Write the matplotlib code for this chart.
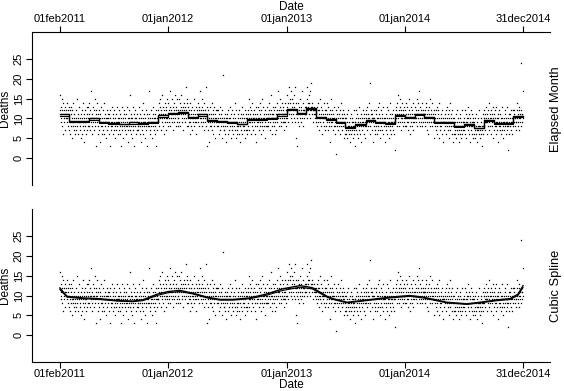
import numpy as np
import pandas as pd
import matplotlib
matplotlib.use("Agg")
import matplotlib.pyplot as plt
import matplotlib.dates as mdates

plt.rcParams["font.family"] = ["Liberation Sans", "DejaVu Sans"]

# Daily deaths, one line per month
deaths_2011 = [
    12, 16, 11, 9, 13, 10, 15, 8, 12, 11, 6, 14, 10, 12, 9, 11, 13, 7, 10, 12, 11, 9, 14, 10, 8, 12, 11, 13,  # feb
    10, 7, 12, 9, 6, 11, 8, 13, 9, 10, 5, 12, 8, 9, 14, 7, 10, 11, 6, 9, 8, 12, 10, 7, 9, 15, 8, 11, 10, 6, 9,  # mar
    9, 13, 7, 10, 8, 5, 11, 9, 12, 6, 10, 8, 14, 9, 7, 11, 4, 10, 9, 12, 8, 10, 6, 9, 13, 7, 11, 8, 10, 13,  # apr
    11, 8, 14, 10, 7, 12, 9, 17, 10, 8, 6, 11, 13, 9, 10, 12, 7, 10, 15, 9, 8, 11, 3, 12, 10, 9, 14, 10, 8, 11, 6,  # may
    9, 12, 7, 10, 4, 11, 8, 13, 9, 6, 10, 8, 12, 9, 7, 14, 10, 6, 9, 11, 8, 10, 5, 9, 12, 7, 10, 9, 11, 10,  # jun
    8, 11, 6, 9, 10, 3, 12, 8, 9, 7, 13, 9, 8, 10, 6, 11, 9, 7, 12, 8, 5, 10, 9, 11, 7, 8, 13, 9, 6, 10, 9,  # jul
    9, 7, 10, 12, 6, 8, 11, 3, 9, 10, 8, 13, 7, 9, 10, 5, 11, 8, 12, 9, 7, 10, 8, 6, 11, 9, 13, 8, 4, 10, 7,  # aug
    10, 8, 12, 7, 9, 16, 6, 10, 8, 11, 9, 5, 10, 13, 8, 7, 11, 9, 3, 10, 8, 12, 9, 6, 10, 7, 11, 9, 8, 8,  # sep
    7, 10, 9, 13, 6, 8, 11, 9, 4, 10, 8, 12, 7, 9, 10, 6, 14, 8, 9, 11, 5, 9, 10, 8, 12, 7, 9, 3, 11, 10, 8,  # oct
    9, 11, 8, 17, 7, 10, 6, 9, 12, 8, 10, 5, 9, 11, 8, 13, 7, 10, 9, 6, 11, 8, 10, 9, 3, 12, 7, 9, 10, 9,  # nov
    12, 9, 14, 11, 8, 13, 10, 15, 7, 11, 12, 9, 16, 10, 8, 11, 13, 6, 12, 10, 14, 9, 11, 10, 13, 7, 12, 10, 15, 9, 8,  # dec
]
deaths_2012 = [
    11, 14, 9, 12, 10, 17, 8, 13, 11, 10, 12, 9, 15, 11, 7, 13, 10, 12, 14, 9, 11, 16, 10, 8, 12, 13, 9, 11, 15, 10, 8,  # jan
    12, 10, 15, 11, 9, 14, 12, 8, 13, 11, 16, 10, 12, 9, 13, 11, 7, 14, 12, 10, 11, 13, 9, 18, 12, 10, 14, 8, 15,  # feb
    10, 13, 8, 11, 9, 12, 6, 10, 14, 9, 11, 8, 12, 10, 7, 13, 9, 11, 10, 15, 8, 12, 9, 11, 10, 6, 13, 9, 12, 10, 11,  # mar
    11, 9, 14, 12, 8, 13, 10, 17, 11, 9, 12, 10, 15, 8, 11, 13, 9, 12, 10, 7, 14, 11, 9, 12, 10, 18, 8, 11, 13, 3,  # apr
    10, 7, 12, 9, 11, 4, 10, 13, 8, 9, 11, 8, 10, 14, 7, 9, 12, 6, 10, 11, 9, 13, 8, 10, 5, 11, 9, 12, 10, 8, 12,  # may
    9, 12, 8, 10, 6, 11, 9, 13, 7, 10, 8, 11, 9, 5, 12, 10, 21, 8, 9, 7, 10, 7, 9, 11, 6, 8, 10, 4, 9, 10,  # jun
    8, 11, 9, 6, 12, 10, 7, 9, 13, 8, 10, 5, 9, 11, 8, 12, 7, 10, 9, 6, 11, 9, 8, 14, 7, 10, 9, 5, 12, 8, 6,  # jul
    9, 7, 11, 8, 10, 6, 12, 9, 4, 10, 8, 11, 7, 9, 13, 6, 10, 8, 9, 11, 7, 10, 8, 5, 12, 9, 11, 7, 10, 6, 7,  # aug
    10, 12, 8, 11, 9, 15, 7, 10, 13, 9, 11, 6, 10, 12, 8, 9, 14, 10, 7, 11, 9, 12, 10, 8, 11, 6, 10, 13, 4, 9,  # sep
    11, 8, 10, 13, 9, 7, 12, 10, 14, 8, 9, 11, 6, 10, 12, 8, 15, 9, 10, 7, 13, 10, 8, 11, 9, 12, 5, 10, 11, 8, 8,  # oct
    10, 13, 9, 11, 8, 14, 10, 12, 7, 11, 9, 12, 10, 16, 8, 11, 6, 10, 13, 9, 11, 8, 12, 10, 9, 6, 13, 10, 11, 7,  # nov
    12, 9, 14, 11, 10, 17, 8, 12, 11, 13, 10, 15, 9, 12, 8, 11, 14, 10, 12, 9, 13, 11, 7, 9, 10, 14, 9, 11, 12, 10, 8,  # dec
]
deaths_2013 = [
    13, 10, 16, 12, 14, 9, 18, 12, 11, 15, 12, 14, 10, 17, 11, 13, 9, 15, 12, 14, 11, 16, 13, 10, 12, 18, 9, 14, 12, 11, 5,  # jan
    3, 12, 10, 14, 11, 9, 13, 12, 8, 15, 11, 10, 13, 9, 12, 17, 10, 11, 8, 12, 14, 10, 12, 12, 11, 13, 11, 13,  # feb
    13, 11, 15, 12, 18, 10, 14, 12, 13, 16, 11, 14, 12, 17, 10, 13, 19, 12, 14, 11, 13, 12, 9, 12, 12, 11, 13, 12, 10, 11, 12,  # mar
    11, 9, 13, 10, 8, 12, 14, 9, 11, 10, 7, 12, 10, 15, 9, 11, 8, 13, 10, 6, 12, 9, 11, 10, 14, 8, 10, 12, 7, 11,  # apr
    10, 12, 8, 11, 9, 14, 7, 10, 13, 9, 11, 8, 10, 4, 12, 9, 11, 15, 8, 10, 9, 12, 10, 7, 11, 13, 8, 10, 9, 6, 8,  # may
    1, 10, 12, 8, 11, 9, 13, 7, 10, 9, 11, 8, 10, 12, 6, 9, 14, 8, 10, 11, 7, 9, 12, 10, 8, 5, 11, 9, 10, 6,  # jun
    8, 6, 10, 7, 9, 11, 5, 8, 12, 7, 9, 6, 8, 10, 4, 7, 11, 8, 6, 9, 7, 10, 8, 5, 9, 12, 6, 8, 7, 3, 9,  # jul
    9, 7, 10, 12, 6, 8, 11, 9, 5, 10, 8, 13, 7, 9, 10, 6, 11, 8, 4, 9, 10, 7, 12, 8, 9, 11, 6, 10, 8, 5, 9,  # aug
    10, 12, 8, 11, 9, 7, 13, 10, 8, 11, 9, 14, 10, 6, 19, 8, 11, 9, 12, 10, 7, 11, 9, 10, 4, 12, 8, 10, 6, 7,  # sep
    9, 11, 8, 12, 10, 6, 9, 13, 7, 10, 8, 11, 9, 14, 7, 10, 5, 9, 12, 8, 10, 7, 11, 9, 13, 6, 9, 10, 8, 4, 10,  # oct
    9, 7, 11, 8, 10, 13, 6, 9, 12, 8, 10, 5, 9, 11, 7, 8, 14, 9, 10, 6, 11, 8, 9, 7, 12, 10, 6, 9, 9, 2,  # nov
    11, 9, 13, 10, 12, 8, 14, 11, 9, 16, 10, 12, 8, 11, 13, 9, 15, 10, 7, 12, 11, 9, 14, 10, 12, 8, 11, 13, 9, 10, 8,  # dec
]
deaths_2014 = [
    10, 12, 8, 11, 14, 9, 10, 13, 7, 11, 9, 12, 10, 15, 8, 11, 6, 10, 13, 9, 11, 8, 12, 10, 9, 14, 7, 10, 11, 9, 10,  # jan
    11, 13, 9, 12, 10, 15, 8, 11, 14, 10, 12, 9, 11, 17, 10, 8, 13, 11, 9, 12, 10, 14, 8, 11, 12, 9, 11, 11,  # feb
    10, 12, 9, 11, 8, 13, 10, 14, 7, 11, 9, 12, 10, 6, 13, 11, 9, 15, 10, 8, 11, 9, 12, 10, 14, 8, 10, 11, 9, 12, 5,  # mar
    9, 11, 8, 10, 12, 7, 9, 13, 6, 10, 8, 12, 9, 11, 5, 10, 14, 8, 9, 7, 10, 8, 11, 9, 6, 12, 9, 4, 10, 9,  # apr
    9, 7, 11, 10, 8, 12, 6, 9, 13, 8, 10, 9, 7, 11, 5, 12, 8, 10, 9, 14, 7, 10, 8, 11, 9, 6, 12, 4, 10, 8, 6,  # may
    8, 10, 6, 9, 7, 11, 5, 8, 12, 7, 9, 6, 8, 10, 4, 9, 7, 11, 8, 6, 10, 7, 9, 5, 8, 12, 6, 9, 7, 9,  # jun
    9, 7, 10, 8, 12, 6, 9, 11, 5, 10, 8, 9, 13, 7, 10, 6, 8, 11, 9, 4, 10, 8, 7, 12, 9, 6, 11, 8, 10, 5, 9,  # jul
    8, 6, 9, 7, 10, 5, 8, 11, 6, 7, 9, 4, 8, 7, 10, 6, 12, 8, 7, 5, 8, 10, 6, 9, 3, 8, 7, 11, 6, 8, 10,  # aug
    10, 12, 8, 9, 11, 7, 13, 10, 9, 6, 11, 9, 12, 8, 10, 14, 7, 9, 11, 10, 8, 10, 6, 12, 9, 11, 8, 10, 13, 5,  # sep
    9, 11, 7, 10, 8, 12, 6, 9, 13, 8, 10, 7, 9, 11, 4, 10, 8, 12, 9, 7, 11, 8, 10, 6, 9, 13, 7, 10, 8, 5, 9,  # oct
    9, 7, 10, 12, 8, 11, 6, 9, 10, 8, 13, 9, 7, 2, 10, 8, 11, 9, 6, 10, 8, 11, 9, 7, 12, 10, 6, 9, 8, 12,  # nov
    10, 12, 9, 11, 8, 10, 10, 7, 9, 9, 12, 10, 14, 8, 11, 9, 13, 10, 7, 12, 11, 9, 10, 24, 8, 12, 9, 11, 11, 10, 17,  # dec
]

# Elapsed-month fit (two traces), one value per month feb2011..dec2014
elapsed_a = [11.0, 9.4, 9.3, 10.0, 9.2, 8.8, 8.7, 9.0, 8.8, 9.1, 10.8,
             11.3, 11.7, 10.3, 11.0, 9.6, 9.3, 9.0, 8.7, 9.8, 9.8, 10.2, 11.0,
             12.5, 11.3, 12.7, 10.4, 9.8, 9.2, 7.9, 8.6, 9.7, 9.2, 8.9, 10.8,
             10.3, 11.1, 10.3, 9.2, 9.0, 8.1, 8.6, 7.7, 9.6, 8.9, 8.9, 10.7]
elapsed_b = [10.6, 9.1, 9.0, 9.6, 8.9, 8.6, 8.5, 8.7, 8.6, 8.8, 10.4,
             11.0, 11.4, 10.0, 10.7, 9.3, 9.0, 8.8, 8.5, 9.5, 9.5, 9.9, 10.7,
             12.1, 11.0, 12.3, 10.1, 9.5, 8.9, 7.7, 8.4, 9.4, 8.9, 8.7, 10.5,
             10.0, 10.8, 10.0, 8.9, 8.8, 7.9, 8.4, 7.5, 9.3, 8.7, 8.7, 10.3]

# Cubic spline fit (two traces)
spline_dates = ["2011-02-01", "2011-02-23", "2011-04-13", "2011-06-04", "2011-07-27",
                "2011-09-14", "2011-10-15", "2011-11-27", "2012-01-01", "2012-02-06",
                "2012-03-17", "2012-04-30", "2012-06-09", "2012-07-19", "2012-09-09",
                "2012-11-01", "2012-12-20", "2013-02-11", "2013-03-20", "2013-04-15",
                "2013-05-05", "2013-05-24", "2013-07-06", "2013-08-24", "2013-11-16",
                "2014-01-16", "2014-02-25", "2014-05-10", "2014-07-11", "2014-08-20",
                "2014-10-12", "2014-11-21", "2014-12-16", "2014-12-31"]
spline_a = [11.9, 9.8, 9.4, 9.2, 8.75, 8.6, 8.9, 10.3, 11.0, 11.3,
            10.6, 9.6, 9.0, 9.0, 9.4, 10.4, 11.7, 12.5, 12.0, 10.8,
            9.8, 9.2, 8.3, 8.75, 9.6, 10.0, 9.6, 8.3, 7.9, 8.3,
            8.9, 9.2, 10.4, 12.5]
spline_b = [11.5, 9.6, 9.2, 9.0, 8.6, 8.45, 8.7, 10.0, 10.7, 11.0,
            10.4, 9.4, 8.85, 8.85, 9.2, 10.1, 11.3, 12.1, 11.7, 10.5,
            9.6, 9.0, 8.15, 8.6, 9.4, 9.8, 9.4, 8.15, 7.75, 8.15,
            8.7, 9.0, 10.1, 12.0]

tick_dates = ["2011-02-01", "2012-01-01", "2013-01-01", "2014-01-01", "2014-12-31"]
tick_labels = ["01feb2011", "01jan2012", "01jan2013", "01jan2014", "31dec2014"]

deaths = deaths_2011 + deaths_2012 + deaths_2013 + deaths_2014
days = pd.date_range("2011-02-01", periods=len(deaths), freq="D")
months = list(pd.date_range("2011-02-01", periods=len(elapsed_a), freq="MS")) + [pd.Timestamp("2014-12-31")]
sp_dates = pd.to_datetime(spline_dates)

fig = plt.figure(figsize=(5.64, 3.91), dpi=100)
ax1 = fig.add_axes([0.0567, 0.527, 0.9184, 0.391])
ax2 = fig.add_axes([0.0567, 0.074, 0.9184, 0.391])

for ax in (ax1, ax2):
    ax.plot(days, deaths, linestyle="none", marker="s", markersize=0.9,
            markeredgewidth=0, color="black")
    ax.set_xlim(pd.Timestamp("2010-11-07"), pd.Timestamp("2015-03-24"))
    ax.set_ylim(-6.8, 31.8)
    ax.set_yticks([0, 5, 10, 15, 20, 25])
    ax.set_yticklabels(["0", "5", "10", "15", "20", "25"], rotation=90, va="center")
    ax.set_xticks(pd.to_datetime(tick_dates))
    ax.set_xticklabels(tick_labels)
    ax.tick_params(direction="out", length=4, width=0.8, labelsize=8, pad=2)
    ax.set_ylabel("Deaths", fontsize=8.5, labelpad=2)
    ax.spines["right"].set_visible(False)
    for s in ax.spines.values():
        s.set_linewidth(0.8)

ax1.step(months, elapsed_a + [elapsed_a[-1]], where="post", color="black", linewidth=1.0)
ax1.step(months, elapsed_b + [elapsed_b[-1]], where="post", color="black", linewidth=0.8)
ax2.plot(sp_dates, spline_a, color="black", linewidth=1.0)
ax2.plot(sp_dates, spline_b, color="black", linewidth=0.8)

# top panel: date axis on top
ax1.spines["bottom"].set_visible(False)
ax1.xaxis.tick_top()
ax2.spines["top"].set_visible(False)
ax2.tick_params(axis="x", pad=1)

x_mid = 0.0567 + 0.9184 / 2
fig.text(x_mid, 0.998, "Date", ha="center", va="top", fontsize=8.5)
fig.text(x_mid, 0.001, "Date", ha="center", va="bottom", fontsize=8.5)

fig.text(0.986, 0.722, "Elapsed Month", rotation=90, ha="center", va="center", fontsize=9.3)
fig.text(0.986, 0.269, "Cubic Spline", rotation=90, ha="center", va="center", fontsize=9.3)

fig.savefig("out.png", dpi=100)
